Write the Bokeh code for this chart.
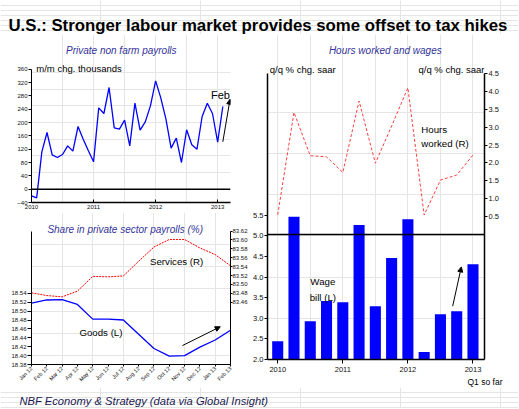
import math
from bokeh.plotting import figure
from bokeh.models import (Range1d, LinearAxis, FixedTicker, Span, Label, Arrow, Title,
                          NormalHead, NumeralTickFormatter)
from bokeh.layouts import column, row
from bokeh.embed import file_html
from bokeh.resources import INLINE

SANS = "Liberation Sans"
TITLE_BLUE = "#333399"

# ---------------- data ----------------
# Private non farm payrolls, m/m chg. thousands, Jan 2010 .. Feb 2013
payroll_start_year = 2010
payrolls = [-20, -26, 112, 170, 103, 95, 104, 130, 114, 188, 150, 115,
            82, 244, 227, 305, 184, 180, 207, 130, 258, 177, 202, 250,
            325, 274, 210, 123, 153, 80, 178, 133, 120, 218, 258, 227,
            141, 248]
payroll_year_ticks = [2010, 2011, 2012, 2013]
payroll_y_ticks = [-40, 0, 40, 80, 120, 160, 200, 240, 280, 320, 360]

# Hours worked and wages, quarterly 2010Q1 .. 2013Q1 (q/q % chg. saar)
quarter_start_year = 2010
wage_bill = [2.44, 5.46, 2.93, 3.42, 3.39, 5.26, 3.29, 4.46, 5.40, 2.18, 3.10, 3.17, 4.31]
hours_worked = [0.55, 3.41, 2.20, 2.17, 1.73, 3.73, 1.99, 3.03, 4.10, 0.54, 1.52, 1.66, 2.22]
wage_y_ticks = [2.0, 2.5, 3.0, 3.5, 4.0, 4.5, 5.0, 5.5]
hours_y_ticks = [0.5, 1.0, 1.5, 2.0, 2.5, 3.0, 3.5, 4.0, 4.5]

# Share in private sector payrolls (%)
share_months = ["Jan 12", "Feb 12", "Mar 12", "Apr 12", "May 12", "Jun 12", "Jul 12",
                "Aug 12", "Sep 12", "Oct 12", "Nov 12", "Dec 12", "Jan 13", "Feb 13"]
goods_share = [18.518, 18.525, 18.526, 18.515, 18.482, 18.482, 18.480,
               18.448, 18.416, 18.399, 18.400, 18.419, 18.435, 18.457]
services_share = [83.481, 83.475, 83.472, 83.485, 83.518, 83.517, 83.519,
                  83.552, 83.584, 83.601, 83.601, 83.582, 83.567, 83.542]
goods_ticks = [18.38, 18.40, 18.42, 18.44, 18.46, 18.48, 18.50, 18.52, 18.54]
services_ticks = [83.46, 83.48, 83.50, 83.52, 83.54, 83.56, 83.58, 83.60, 83.62]


def base_fig(w, h, xr, yr, left, right, top, bottom, **kw):
    p = figure(width=w, height=h, x_range=xr, y_range=yr, output_backend="svg",
               toolbar_location=None, x_axis_location=None, y_axis_location=None,
               min_border_left=left, min_border_right=right,
               min_border_top=top, min_border_bottom=bottom, **kw)
    p.outline_line_color = None
    p.background_fill_color = "white"
    p.border_fill_color = "white"
    return p


def style_axis(ax, size, tick_in=0, tick_out=3, lw=1.0, standoff=2, bounds=None):
    ax.axis_line_color = "black"
    ax.axis_line_width = lw
    ax.major_tick_line_color = "black"
    ax.major_tick_in = tick_in
    ax.major_tick_out = tick_out
    ax.minor_tick_line_color = None
    ax.major_label_text_font = SANS
    ax.major_label_text_font_size = size
    ax.major_label_text_color = "#111111"
    ax.major_label_standoff = standoff
    if bounds is not None:
        ax.bounds = bounds


def text_label(p, x, y, txt, size="10px", color="black", style="normal",
               align="left", range_name="default"):
    p.add_layout(Label(x=x, y=y, text=txt, text_font=SANS, text_font_size=size,
                       text_color=color, text_font_style=style, text_align=align,
                       text_baseline="alphabetic", y_range_name=range_name))


def arrow(p, x0, y0, x1, y1):
    p.add_layout(Arrow(end=NormalHead(size=5, fill_color="black", line_color="black"),
                       x_start=x0, y_start=y0, x_end=x1, y_end=y1,
                       line_color="black", line_width=1))


# ---------------- header ----------------
header = base_fig(518, 34, Range1d(0, 518), Range1d(34, 0), 0, 0, 0, 0)
header.add_layout(Label(x=8, y=25, text="U.S.: Stronger labour market provides some offset to tax hikes",
                        text_font=SANS, text_font_size="16.8px", text_font_style="bold",
                        text_color="black", text_baseline="alphabetic"))

# ---------------- top left: payrolls ----------------
tl = base_fig(250, 178, Range1d(2010, 2010 + 220 / 68.6), Range1d(-40, -40 + 168 * 3.0), 27, 3, 0, 10)
pay_x = [payroll_start_year + i / 12 for i in range(len(payrolls))]
tl.line(pay_x, payrolls, line_color="#0000FF", line_width=1.3)
tl.add_layout(Span(location=0, dimension="width", line_color="black", line_width=1.5))
ax = LinearAxis(ticker=FixedTicker(ticks=payroll_year_ticks))
style_axis(ax, "6px", tick_in=3, tick_out=0, lw=1.5, standoff=2)
tl.add_layout(ax, "below")
ay = LinearAxis(ticker=FixedTicker(ticks=payroll_y_ticks))
style_axis(ay, "6px", tick_in=0, tick_out=3, lw=1.0, standoff=1,
           bounds=(payroll_y_ticks[0], payroll_y_ticks[-1]))
tl.add_layout(ay, "left")
text_label(tl, 2011.447, 415, "Private non farm payrolls", size="10px", color=TITLE_BLUE,
           style="italic", align="center")
text_label(tl, 2010.077, 361, "m/m chg. thousands", size="9.5px")
text_label(tl, 2013.197, 284, "Feb", size="11px", align="right")
arrow(tl, payroll_start_year + (len(payrolls) - 1) / 12, 142, 2013.20, 270)

# ---------------- bottom left: shares ----------------
bl_scale = 0.30 / 137
bl = base_fig(250, 175, Range1d(0, len(share_months) - 1), Range1d(18.38, 18.38 + 156 * bl_scale),
              31, 19, 0, 19,
              extra_y_ranges={"services": Range1d(83.32, 83.32 + 156 * bl_scale)})
sx = list(range(len(share_months)))
bl.line(sx, goods_share, line_color="#0000FF", line_width=1.3)
bl.line(sx, services_share, line_color="#FF0000", line_width=1, line_dash="2 1",
        y_range_name="services")
bx = LinearAxis(ticker=FixedTicker(ticks=sx),
                major_label_overrides={i: m for i, m in enumerate(share_months)})
style_axis(bx, "5.5px", tick_in=0, tick_out=2, lw=1.0, standoff=1)
bx.major_label_orientation = math.pi / 4
bl.add_layout(bx, "below")
bly = LinearAxis(ticker=FixedTicker(ticks=goods_ticks), formatter=NumeralTickFormatter(format="0.00"))
style_axis(bly, "6px", tick_in=0, tick_out=4, lw=1.0, standoff=1, bounds=(18.38, 18.68))
bl.add_layout(bly, "left")
bry = LinearAxis(ticker=FixedTicker(ticks=services_ticks), formatter=NumeralTickFormatter(format="0.00"),
                 y_range_name="services")
style_axis(bry, "6px", tick_in=0, tick_out=2, lw=1.0, standoff=0, bounds=(83.32, 83.62))
bl.add_layout(bry, "right")
text_label(bl, 6.12, 18.683, "Share in private sector payrolls (%)", size="10px",
           color=TITLE_BLUE, style="italic", align="center")
text_label(bl, 7.74, 18.611, "Services (R)", size="9.7px")
text_label(bl, 3.13, 18.452, "Goods (L)", size="9.7px")
arrow(bl, 9.86, 18.4225, 12.33, 18.4648)

# ---------------- right: hours worked and wages ----------------
tr = base_fig(268, 353, Range1d(2009.843, 2013.177), Range1d(2.0, 2.0 + 325 / 41.23), 16, 34, 0, 28,
              extra_y_ranges={"hours": Range1d(-3.5, -3.5 + 325 / 35.75)})
qx = [quarter_start_year + i / 4 for i in range(len(wage_bill))]
tr.vbar(x=qx, top=wage_bill, bottom=0, width=0.17, fill_color="#0000FF", line_color=None)
tr.line(qx, hours_worked, line_color="#FF4040", line_width=1, line_dash="3 2",
        y_range_name="hours")
tr.add_layout(Span(location=0, dimension="width", line_color="black", line_width=1.5,
                   y_range_name="hours"))
tx = LinearAxis(ticker=FixedTicker(ticks=payroll_year_ticks))
style_axis(tx, "7.5px", tick_in=0, tick_out=4, lw=1.5, standoff=3)
tr.add_layout(tx, "below")
tly = LinearAxis(ticker=FixedTicker(ticks=wage_y_ticks), formatter=NumeralTickFormatter(format="0.0"))
style_axis(tly, "7.5px", tick_in=0, tick_out=3, lw=1.5, standoff=1, bounds=(2.0, 2.0 + 286 / 41.23))
tr.add_layout(tly, "left")
hy = LinearAxis(ticker=FixedTicker(ticks=hours_y_ticks), formatter=NumeralTickFormatter(format="0.0"),
                y_range_name="hours")
style_axis(hy, "7.5px", tick_in=0, tick_out=3, lw=1.5, standoff=1, bounds=(-3.5, 4.5))
tr.add_layout(hy, "right")
tr.add_layout(Title(text="Q1 so far", align="left", offset=200, standoff=0,
                    text_font=SANS, text_font_size="8.5px", text_font_style="normal",
                    text_color="black"), "below")
text_label(tr, 2011.653, 9.485, "Hours worked and wages", size="10px", color=TITLE_BLUE,
           style="italic", align="center")
text_label(tr, 2009.878, 9.041, "q/q % chg. saar", size="9.5px")
text_label(tr, 2013.177, 9.041, "q/q % chg. saar", size="9.5px", align="right")
text_label(tr, 2012.206, 7.586, "Hours", size="9.7px")
text_label(tr, 2012.206, 7.229, "worked (R)", size="9.7px")
text_label(tr, 2010.693, 3.882, "Wage", size="9.7px", align="center")
text_label(tr, 2010.693, 3.504, "bill (L)", size="9.7px", align="center")
arrow(tr, 2012.688, 3.293, 2012.821, 4.246)

# ---------------- footer ----------------
footer = base_fig(518, 21, Range1d(0, 518), Range1d(21, 0), 0, 0, 0, 0)
footer.add_layout(Label(x=19, y=13, text="NBF Economy & Strategy (data via Global Insight)",
                        text_font=SANS, text_font_size="11.2px", text_font_style="italic",
                        text_color="#1a1a50", text_baseline="alphabetic"))

layout = column(header, row(column(tl, bl), tr), footer)
open("out.html", "w").write(file_html(layout, INLINE))
